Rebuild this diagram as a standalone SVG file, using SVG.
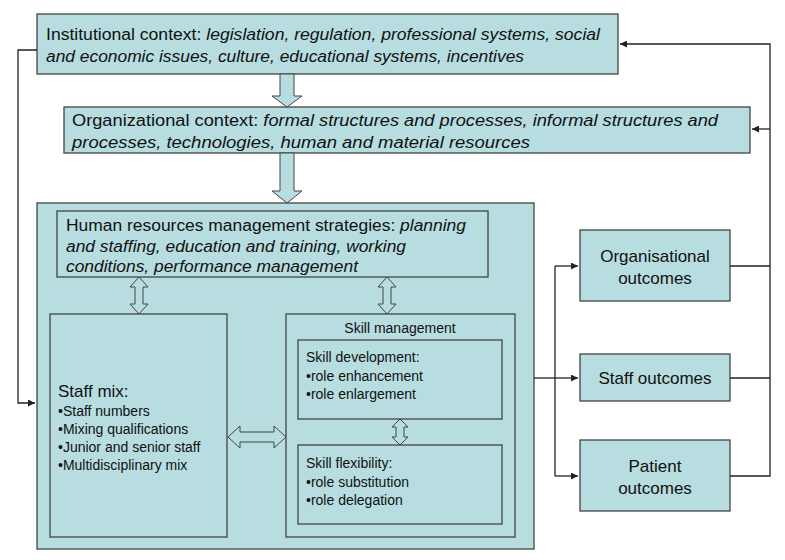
<svg xmlns="http://www.w3.org/2000/svg" width="785" height="560" viewBox="0 0 785 560">
<style>
.b{fill:#b7dde0;stroke:#444;stroke-width:1.3}
.t{font-family:"Liberation Sans",Arial,sans-serif;fill:#111}
.i{font-style:italic}
.l{fill:none;stroke:#222;stroke-width:1.3}
.ba{fill:#b7dde0;stroke:#444;stroke-width:1}
</style>
<defs><marker id="a" viewBox="0 0 8 8" refX="8" refY="4" markerWidth="7" markerHeight="7" orient="auto" markerUnits="userSpaceOnUse"><path d="M0,0L8,4L0,8z" fill="#222"/></marker></defs>
<rect width="785" height="560" fill="#fff"/>
<g id="main"><rect class="b" x="37" y="203" width="497" height="346"/></g>
<g id="institutional"><rect class="b" x="37" y="14" width="581" height="60"/>
<text class="t" x="46" y="40" font-size="16" textLength="554" lengthAdjust="spacingAndGlyphs">Institutional context: <tspan class="i">legislation, regulation, professional systems, social</tspan></text>
<text class="t i" x="46" y="62" font-size="16" textLength="478" lengthAdjust="spacingAndGlyphs">and economic issues, culture, educational systems, incentives</text></g>
<g id="organizational"><rect class="b" x="64" y="107" width="686" height="46"/>
<text class="t" x="72" y="126" font-size="16" textLength="646" lengthAdjust="spacingAndGlyphs">Organizational context: <tspan class="i">formal structures and processes, informal structures and</tspan></text>
<text class="t i" x="72" y="148" font-size="16" textLength="458" lengthAdjust="spacingAndGlyphs">processes, technologies, human and material resources</text></g>
<g id="hrm"><rect class="b" x="57" y="211" width="431" height="66"/>
<text class="t" x="66" y="231" font-size="16" textLength="400" lengthAdjust="spacingAndGlyphs">Human resources management strategies: <tspan class="i">planning</tspan></text>
<text class="t i" x="66" y="252" font-size="16" textLength="340" lengthAdjust="spacingAndGlyphs">and staffing, education and training, working</text>
<text class="t i" x="66" y="272" font-size="16" textLength="292" lengthAdjust="spacingAndGlyphs">conditions, performance management</text></g>
<g id="staffmix"><rect class="b" x="50" y="314" width="177" height="223"/>
<text class="t" font-size="14"><tspan x="58" y="397" font-size="17">Staff mix:</tspan><tspan x="58" y="416">•Staff numbers</tspan><tspan x="58" y="434">•Mixing qualifications</tspan><tspan x="58" y="452">•Junior and senior staff</tspan><tspan x="58" y="470">•Multidisciplinary mix</tspan></text></g>
<g id="skillmgmt"><rect class="b" x="286" y="314" width="229" height="223"/>
<text class="t" x="400" y="333" font-size="14" text-anchor="middle">Skill management</text></g>
<g id="skilldev"><rect class="b" x="298" y="340" width="204" height="79"/>
<text class="t" font-size="14"><tspan x="306" y="362">Skill development:</tspan><tspan x="306" y="381">•role enhancement</tspan><tspan x="306" y="399">•role enlargement</tspan></text></g>
<g id="skillflex"><rect class="b" x="298" y="445" width="204" height="79"/>
<text class="t" font-size="14"><tspan x="306" y="468">Skill flexibility:</tspan><tspan x="306" y="487">•role substitution</tspan><tspan x="306" y="505">•role delegation</tspan></text></g>
<g id="orgout"><rect class="b" x="580" y="230" width="150" height="71"/>
<text class="t" font-size="17" text-anchor="middle"><tspan x="655" y="262">Organisational</tspan><tspan x="655" y="284">outcomes</tspan></text></g>
<g id="staffout"><rect class="b" x="580" y="354" width="150" height="47"/>
<text class="t" x="655" y="384" font-size="17" text-anchor="middle">Staff outcomes</text></g>
<g id="patout"><rect class="b" x="580" y="440" width="150" height="71"/>
<text class="t" font-size="17" text-anchor="middle"><tspan x="655" y="472">Patient</tspan><tspan x="655" y="494">outcomes</tspan></text></g>
<g id="connectors">
<polyline class="l" points="37,50 18,50 18,403 35,403" marker-end="url(#a)"/>
<line class="l" x1="534" y1="378" x2="555" y2="378"/>
<polyline class="l" points="555,266 555,476"/>
<line class="l" x1="555" y1="266" x2="578" y2="266" marker-end="url(#a)"/>
<line class="l" x1="555" y1="378" x2="578" y2="378" marker-end="url(#a)"/>
<line class="l" x1="555" y1="476" x2="578" y2="476" marker-end="url(#a)"/>
<polyline class="l" points="730,266 770,266"/>
<polyline class="l" points="730,378 770,378"/>
<polyline class="l" points="730,476 770,476 770,44 620,44" marker-end="url(#a)"/>
<line class="l" x1="770" y1="129" x2="752" y2="129" marker-end="url(#a)"/>
<path class="ba" d="M280,74H294V96H302L287,107L272,96H280Z"/>
<path class="ba" d="M280,153H294V191H302L287,203L272,191H280Z"/>
<path class="ba" d="M139,277L148,287H143V304H148L139,314L130,304H135V287H130Z"/>
<path class="ba" d="M387,277L396,287H391V304H396L387,314L378,304H383V287H378Z"/>
<path class="ba" d="M400,419L408,427H404V437H408L400,445L392,437H396V427H392Z"/>
<path class="ba" d="M228,437L240,426V432H274V426L286,437L274,448V442H240V448Z"/>
</g>
</svg>
